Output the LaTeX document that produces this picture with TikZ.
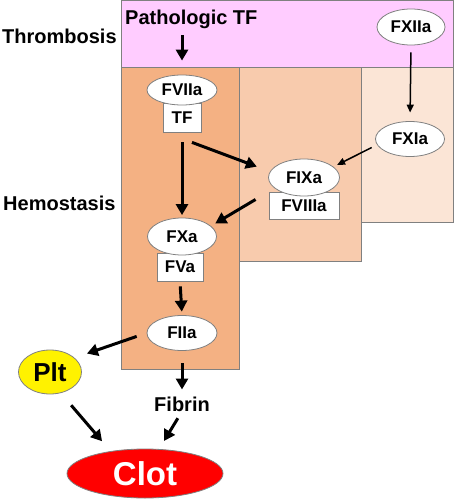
\documentclass[tikz,border=0pt]{standalone}
\usepackage{fontspec}
\setmainfont{Liberation Sans}
\usetikzlibrary{arrows.meta,shapes.geometric,calc}
\definecolor{pinkbg}{HTML}{FFCCFF}
\definecolor{colA}{HTML}{F4B183}
\definecolor{colB}{HTML}{F8CBAD}
\definecolor{colC}{HTML}{FBE5D6}
\definecolor{edgegrey}{HTML}{808080}
\begin{document}
\begin{tikzpicture}[x=1pt,y=-1pt,
  panel/.style={draw=edgegrey,line width=0.8pt},
  oval/.style={ellipse,draw=edgegrey,line width=0.8pt,fill=white,inner sep=0pt,font=\fontsize{17}{20}\selectfont\bfseries},
  cofactor/.style={rectangle,draw=edgegrey,line width=0.8pt,fill=white,inner sep=0pt,font=\fontsize{17}{20}\selectfont\bfseries},
  sidetext/.style={inner sep=0pt,font=\fontsize{20}{24}\selectfont\bfseries},
  bigarrow/.style={line width=3pt,-{Triangle[length=11pt,width=12pt]}},
  thinarrow/.style={line width=1.5pt,-{Triangle[length=8pt,width=7pt]}}
]
\useasboundingbox (0,0) rectangle (454,500);
% background panels
\draw[panel,fill=colA] (121,67) rectangle (239,369);
\draw[panel,fill=colB] (239,67) rectangle (361,261);
\draw[panel,fill=colC] (361,67) rectangle (453.6,222);
\draw[panel,fill=pinkbg] (121,0.4) rectangle (453.6,67);
% side labels
\node[sidetext,anchor=base west] (thr) at (2,44) {Thrombosis};
\node[sidetext,anchor=base west] (hem) at (3,210) {Hemostasis};
\node[sidetext,anchor=base west] (ptf) at (125,25) {Pathologic TF};
% factors
\node[cofactor,minimum width=38pt,minimum height=29pt] (tf) at (182,118) {TF};
\node[oval,minimum width=70pt,minimum height=30pt] (fviia) at (182,90) {FVIIa};
\node[oval,minimum width=68pt,minimum height=36pt] (fxiia) at (411,27) {FXIIa};
\node[oval,minimum width=69pt,minimum height=35pt] (fxia) at (410,139) {FXIa};
\node[cofactor,minimum width=70pt,minimum height=27pt] (fviiia) at (304,205.5) {FVIIIa};
\node[oval,minimum width=71pt,minimum height=37pt] (fixa) at (304,177.5) {FIXa};
\node[cofactor,minimum width=46pt,minimum height=28pt] (fva) at (180,267) {FVa};
\node[oval,minimum width=69pt,minimum height=37pt] (fxa) at (182,236.5) {FXa};
\node[oval,minimum width=70pt,minimum height=35pt] (fiia) at (182,333) {FIIa};
\node[oval,fill=yellow,minimum width=63pt,minimum height=44pt,font=\fontsize{26}{30}\selectfont\bfseries] (plt) at (50,372) {Plt};
\node[sidetext,anchor=base] (fibrin) at (182,411) {Fibrin};
\node[oval,fill=red,text=white,minimum width=156pt,minimum height=49pt,font=\fontsize{33}{40}\selectfont\bfseries] (clot) at (145,473.5) {Clot};
% connectors
\draw[bigarrow,shorten <=6pt,shorten >=14pt] (fviia.north |- ptf.south) -- (fviia.north);
\draw[bigarrow,shorten <=9.5pt,shorten >=2.5pt] (tf.south) -- (fxa.north);
\draw[bigarrow,shorten >=14pt] ([xshift=10pt,yshift=-9.5pt]tf.south) -- (fixa.170);
\draw[thinarrow,shorten <=7pt,shorten >=8.5pt] (fxiia.south) -- (fxia.north);
\draw[thinarrow,shorten <=6pt,shorten >=4pt] (fxia.190) -- (fixa.20);
\draw[bigarrow,shorten <=22pt,shorten >=5pt] (fixa.200) -- (fxa.20);
\draw[bigarrow,shorten <=5pt,shorten >=3.5pt] (fva.south) -- (fiia.north);
\draw[bigarrow,shorten <=10.5pt,shorten >=13pt] (fiia.west) -- (plt.30);
\draw[bigarrow,shorten <=12.5pt,shorten >=6.8pt] (fiia.south) -- (fibrin.north);
\draw[bigarrow,shorten <=16pt,shorten >=13pt] (plt.-63) -- (clot.147);
\draw[bigarrow,shorten <=8pt,shorten >=9.4pt] (fibrin.south) -- (clot.60);
\end{tikzpicture}
\end{document}
